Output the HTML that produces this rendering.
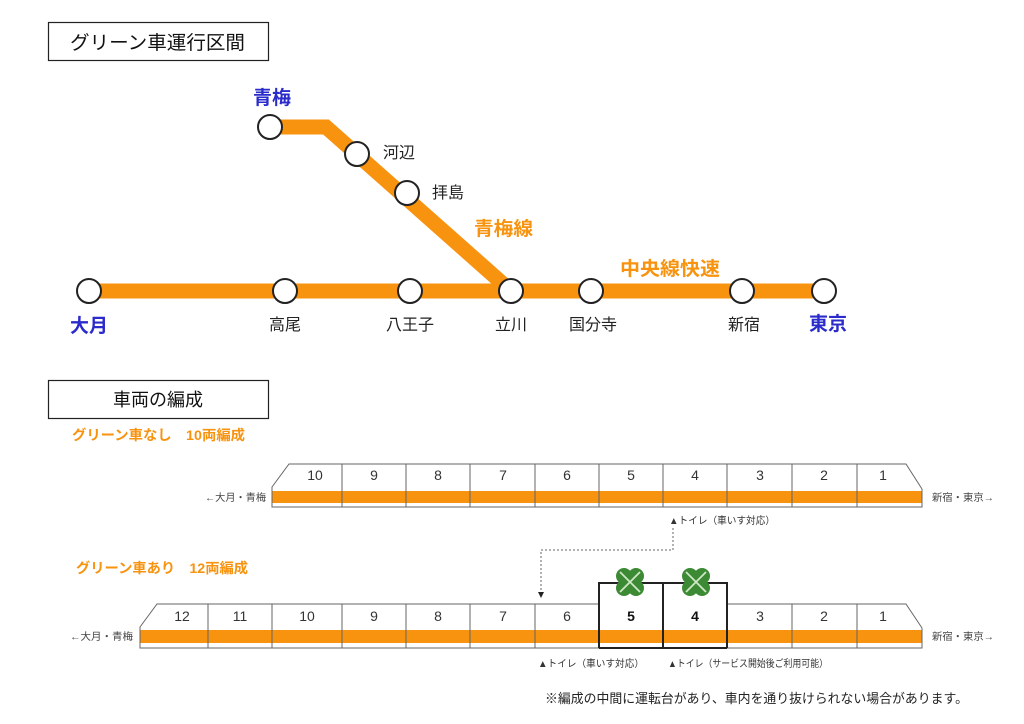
<!DOCTYPE html><html><head><meta charset="utf-8"><style>
html,body{margin:0;padding:0;background:#fff}
svg{display:block}
text{font-family:"Liberation Sans","Noto Sans CJK JP",sans-serif}
</style></head><body>
<svg width="1024" height="724" viewBox="0 0 1024 724" xmlns="http://www.w3.org/2000/svg">
<defs>
<g id="clover"><circle cx="-6" cy="-6" r="8" fill="#3d8a35"/><circle cx="6" cy="-6" r="8" fill="#3d8a35"/><circle cx="-6" cy="6" r="8" fill="#3d8a35"/><circle cx="6" cy="6" r="8" fill="#3d8a35"/><rect x="-9" y="-9" width="18" height="18" fill="#3d8a35"/><line x1="-10" y1="-10" x2="10" y2="10" stroke="#cfe8c4" stroke-width="1.8"/><line x1="10" y1="-10" x2="-10" y2="10" stroke="#cfe8c4" stroke-width="1.8"/></g>
</defs>
<rect x="48.5" y="22.5" width="220" height="38" fill="#fff" stroke="#222" stroke-width="1.2"/>
<text x="70" y="49" font-size="19" textLength="175" lengthAdjust="spacingAndGlyphs" fill="#111">グリーン車運行区間</text>
<g stroke="#f7930f" stroke-width="15" fill="none" stroke-linejoin="miter">
<line x1="89" y1="291" x2="824" y2="291"/>
<polyline points="270,127 326,127 511,291"/>
</g>
<g fill="#fff" stroke="#222" stroke-width="2">
<circle cx="89" cy="291" r="12"/><circle cx="285" cy="291" r="12"/><circle cx="410" cy="291" r="12"/><circle cx="511" cy="291" r="12"/><circle cx="591" cy="291" r="12"/><circle cx="742" cy="291" r="12"/><circle cx="824" cy="291" r="12"/>
<circle cx="270" cy="127" r="12"/><circle cx="357" cy="154" r="12"/><circle cx="407" cy="193" r="12"/>
</g>
<g font-size="16" fill="#222">
<text x="383" y="158">河辺</text><text x="432" y="198">拝島</text>
<text x="285" y="330" text-anchor="middle">高尾</text><text x="410" y="330" text-anchor="middle">八王子</text><text x="511" y="330" text-anchor="middle">立川</text><text x="593" y="330" text-anchor="middle">国分寺</text><text x="744" y="330" text-anchor="middle">新宿</text>
</g>
<g font-size="19" font-weight="bold" fill="#2b2bcc">
<text x="272" y="104" text-anchor="middle">青梅</text><text x="89" y="332" text-anchor="middle">大月</text><text x="828" y="330" text-anchor="middle">東京</text>
</g>
<g font-size="19" font-weight="bold" fill="#f7930f">
<text x="474" y="235" textLength="59" lengthAdjust="spacingAndGlyphs">青梅線</text><text x="620" y="275" textLength="100" lengthAdjust="spacingAndGlyphs">中央線快速</text>
</g>
<rect x="48.5" y="380.5" width="220" height="38" fill="#fff" stroke="#222" stroke-width="1.2"/>
<text x="158" y="406" font-size="18" text-anchor="middle" fill="#111">車両の編成</text>
<text x="72" y="440" font-size="14" font-weight="bold" fill="#f7930f" textLength="173" lengthAdjust="spacingAndGlyphs">グリーン車なし　10両編成</text>
<rect x="272" y="491" width="650" height="12" fill="#f7930f"/>
<g stroke="#666" stroke-width="1" fill="none">
<polyline points="922,489 906,464 289,464 272,487 272,507 922,507 922,489"/>
<line x1="342" y1="464" x2="342" y2="507"/><line x1="406" y1="464" x2="406" y2="507"/><line x1="470" y1="464" x2="470" y2="507"/><line x1="535" y1="464" x2="535" y2="507"/><line x1="599" y1="464" x2="599" y2="507"/><line x1="663" y1="464" x2="663" y2="507"/><line x1="727" y1="464" x2="727" y2="507"/><line x1="792" y1="464" x2="792" y2="507"/><line x1="857" y1="464" x2="857" y2="507"/>
</g>
<g font-size="14" fill="#333" text-anchor="middle">
<text x="315" y="480">10</text><text x="374" y="480">9</text><text x="438" y="480">8</text><text x="503" y="480">7</text><text x="567" y="480">6</text><text x="631" y="480">5</text><text x="695" y="480">4</text><text x="760" y="480">3</text><text x="824" y="480">2</text><text x="883" y="480">1</text>
</g>
<text x="205" y="501" font-size="10" fill="#444" textLength="61" lengthAdjust="spacingAndGlyphs">←大月・青梅</text>
<text x="932" y="501" font-size="10" fill="#444" textLength="62" lengthAdjust="spacingAndGlyphs">新宿・東京→</text>
<text x="669" y="524" font-size="10" fill="#333" textLength="106" lengthAdjust="spacingAndGlyphs">▲トイレ（車いす対応）</text>
<polyline points="673,528 673,550 541,550 541,592" fill="none" stroke="#666" stroke-width="1" stroke-dasharray="2,2"/>
<polygon points="538,592 544,592 541,598" fill="#222"/>
<text x="76" y="573" font-size="14" font-weight="bold" fill="#f7930f" textLength="172" lengthAdjust="spacingAndGlyphs">グリーン車あり　12両編成</text>
<rect x="140" y="630" width="782" height="13" fill="#f7930f"/>
<g stroke="#666" stroke-width="1" fill="none">
<polyline points="922,628 906,604 727,604"/><polyline points="599,604 157,604 140,627 140,648 922,648 922,628"/>
<line x1="208" y1="604" x2="208" y2="648"/><line x1="272" y1="604" x2="272" y2="648"/><line x1="342" y1="604" x2="342" y2="648"/><line x1="406" y1="604" x2="406" y2="648"/><line x1="470" y1="604" x2="470" y2="648"/><line x1="535" y1="604" x2="535" y2="648"/><line x1="792" y1="604" x2="792" y2="648"/><line x1="857" y1="604" x2="857" y2="648"/>
</g>
<g stroke="#222" stroke-width="2" fill="none">
<polyline points="599,648 599,583 727,583 727,648"/><line x1="663" y1="583" x2="663" y2="648"/><line x1="599" y1="648" x2="727" y2="648"/>
</g>
<use href="#clover" x="630" y="582"/><use href="#clover" x="696" y="582"/>
<g font-size="14" fill="#333" text-anchor="middle">
<text x="182" y="621">12</text><text x="240" y="621">11</text><text x="307" y="621">10</text><text x="374" y="621">9</text><text x="438" y="621">8</text><text x="503" y="621">7</text><text x="567" y="621">6</text><text x="631" y="621" font-weight="bold" fill="#111">5</text><text x="695" y="621" font-weight="bold" fill="#111">4</text><text x="760" y="621">3</text><text x="824" y="621">2</text><text x="883" y="621">1</text>
</g>
<text x="70" y="640" font-size="10" fill="#444" textLength="63" lengthAdjust="spacingAndGlyphs">←大月・青梅</text>
<text x="932" y="640" font-size="10" fill="#444" textLength="62" lengthAdjust="spacingAndGlyphs">新宿・東京→</text>
<text x="538" y="667" font-size="10" fill="#333" textLength="106" lengthAdjust="spacingAndGlyphs">▲トイレ（車いす対応）</text>
<text x="668" y="667" font-size="10" fill="#333" textLength="160" lengthAdjust="spacingAndGlyphs">▲トイレ（サービス開始後ご利用可能）</text>
<text x="545" y="703" font-size="13" fill="#222" textLength="423" lengthAdjust="spacingAndGlyphs">※編成の中間に運転台があり、車内を通り抜けられない場合があります。</text>
</svg>
</body></html>
